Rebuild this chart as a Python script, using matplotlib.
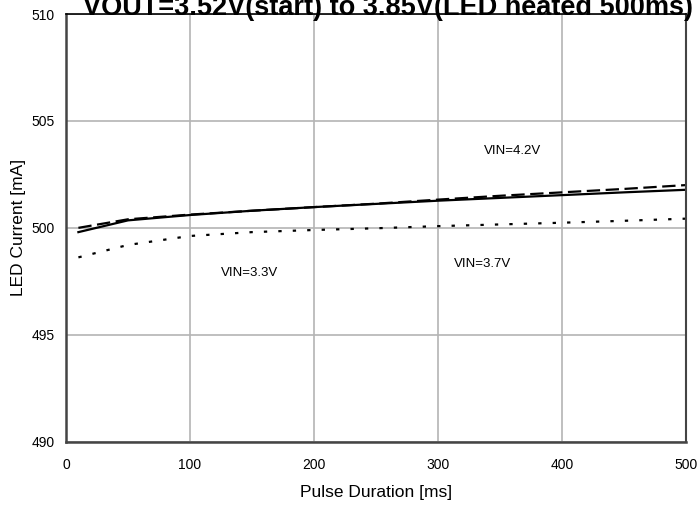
import numpy as np
import matplotlib.pyplot as plt

plt.rcParams['font.family'] = ['Liberation Sans', 'DejaVu Sans']

# pulse duration [ms]
pulse = np.array([10, 50, 100, 150, 200, 250, 300, 350, 400, 450, 500])

# LED current [mA] for each input voltage
vin_37 = np.array([499.8, 500.35, 500.6, 500.8, 500.97, 501.12, 501.27, 501.4, 501.53, 501.66, 501.78])
vin_42 = np.array([500.0, 500.4, 500.62, 500.8, 500.97, 501.13, 501.32, 501.5, 501.66, 501.82, 502.0])
vin_33 = np.array([498.62, 499.2, 499.62, 499.8, 499.9, 499.98, 500.08, 500.16, 500.24, 500.33, 500.43])

fig = plt.figure(figsize=(6.98, 5.08), dpi=100)
ax = fig.add_axes([66/698, 1 - 441.7/508, 620/698, 427.7/508])

ax.plot(pulse, vin_37, color='black', lw=1.6)
ax.plot(pulse, vin_42, color='black', lw=1.6, dashes=(6, 2.5))
ax.plot(pulse, vin_33, color='black', lw=1.6, dashes=(1.5, 5))

ax.text(360, 503.6, 'VIN=4.2V', fontsize=9.5, ha='center', va='center')
ax.text(148, 497.9, 'VIN=3.3V', fontsize=9.5, ha='center', va='center')
ax.text(336, 498.3, 'VIN=3.7V', fontsize=9.5, ha='center', va='center')

ax.set_xlim(0, 500)
ax.set_ylim(490, 510)
ax.set_xticks(np.arange(0, 501, 100))
ax.set_yticks(np.arange(490, 511, 5))
ax.tick_params(length=0, labelsize=10, pad=12)
ax.tick_params(axis='y', pad=8)
ax.grid(color='#b4b4b4', lw=1.2)
ax.set_axisbelow(True)
for s in ['left', 'bottom']:
    ax.spines[s].set_color('#444444')
    ax.spines[s].set_linewidth(1.8)
ax.spines['right'].set_color('#444444')
ax.spines['right'].set_linewidth(1.5)
ax.spines['top'].set_color('black')
ax.spines['top'].set_linewidth(1.2)

ax.set_xlabel('Pulse Duration [ms]', fontsize=12.5, labelpad=9)
ax.set_ylabel('LED Current [mA]', fontsize=12.5, labelpad=4)

fig.text(0.556, 1 - 15/508, 'VOUT=3.52V(start) to 3.85V(LED heated 500ms)',
         fontsize=19.5, fontweight='bold', ha='center', va='baseline')

fig.savefig('out.png', dpi=100)
